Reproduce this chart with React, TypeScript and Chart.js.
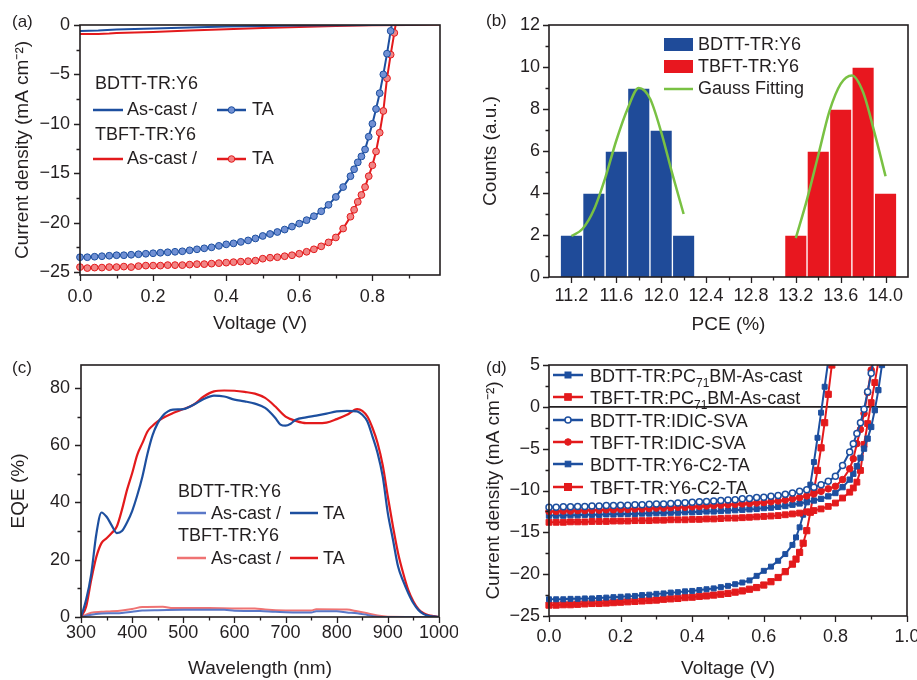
import React, { useEffect, useRef } from 'react';
import { Chart, registerables } from 'chart.js';

Chart.register(...registerables);

const FONT = "'Liberation Sans', Arial, Helvetica, sans-serif";
const INK = '#231f20';
const BLUE = '#1d4f9f';
const RED = '#e31a1c';
const BLUE_BAR = '#1f4b99';
const RED_BAR = '#e8171f';
const GREEN = '#79c143';
const LBLUE = '#5a78c8';
const PINK = '#ef7373';

// ---------- (a) J-V, Y6 blends ----------
const A_BDTT_TA: number[][] = [[0, -23.5], [0.02, -23.5], [0.04, -23.45], [0.06, -23.4], [0.08, -23.35], [0.1, -23.3], [0.12, -23.3], [0.14, -23.25], [0.16, -23.2], [0.18, -23.15], [0.2, -23.1], [0.22, -23.05], [0.24, -23.0], [0.26, -22.95], [0.28, -22.9], [0.3, -22.8], [0.32, -22.7], [0.34, -22.6], [0.36, -22.5], [0.38, -22.35], [0.4, -22.2], [0.42, -22.1], [0.44, -21.95], [0.46, -21.8], [0.48, -21.6], [0.5, -21.35], [0.52, -21.15], [0.54, -20.95], [0.56, -20.7], [0.58, -20.4], [0.6, -20.1], [0.62, -19.75], [0.64, -19.35], [0.66, -18.85], [0.68, -18.2], [0.7, -17.4], [0.72, -16.4], [0.74, -15.3], [0.75, -14.6], [0.76, -13.9], [0.77, -13.3], [0.78, -12.6], [0.79, -11.3], [0.8, -10.0], [0.81, -8.5], [0.82, -6.9], [0.83, -5.0], [0.84, -2.9], [0.85, -0.6], [0.86, 1.5]];
const A_TBFT_TA: number[][] = [[0, -24.5], [0.02, -24.6], [0.04, -24.55], [0.06, -24.55], [0.08, -24.5], [0.1, -24.5], [0.12, -24.45], [0.14, -24.5], [0.16, -24.4], [0.18, -24.35], [0.2, -24.35], [0.22, -24.35], [0.24, -24.3], [0.26, -24.3], [0.28, -24.3], [0.3, -24.25], [0.32, -24.2], [0.34, -24.2], [0.36, -24.15], [0.38, -24.1], [0.4, -24.05], [0.42, -24.0], [0.44, -23.95], [0.46, -23.9], [0.48, -23.85], [0.5, -23.65], [0.52, -23.55], [0.54, -23.5], [0.56, -23.4], [0.58, -23.3], [0.6, -23.15], [0.62, -22.95], [0.64, -22.7], [0.66, -22.4], [0.68, -22.0], [0.7, -21.5], [0.72, -20.6], [0.74, -19.4], [0.75, -18.7], [0.76, -17.9], [0.77, -17.2], [0.78, -16.4], [0.79, -15.3], [0.8, -14.2], [0.81, -12.8], [0.82, -10.9], [0.83, -8.7], [0.84, -5.4], [0.85, -3.0], [0.86, -0.8], [0.87, 1.5]];
const A_BDTT_CAST: number[][] = [[0, -0.6], [0.05, -0.55], [0.1, -0.45], [0.2, -0.35], [0.3, -0.25], [0.4, -0.15], [0.5, -0.1], [0.6, -0.06], [0.7, -0.03], [0.8, 0], [0.9, 0.05], [0.985, 0.1]];
const A_TBFT_CAST: number[][] = [[0, -0.9], [0.05, -0.9], [0.08, -0.85], [0.1, -0.8], [0.2, -0.7], [0.3, -0.55], [0.4, -0.42], [0.5, -0.3], [0.6, -0.2], [0.7, -0.1], [0.8, -0.03], [0.9, 0], [0.985, 0.05]];
const A_X_TICKS = [0, 0.2, 0.4, 0.6, 0.8];
const A_X_MINOR = [0.1, 0.3, 0.5, 0.7, 0.9];
const A_Y_TICKS = [0, -5, -10, -15, -20, -25];
const A_Y_MINOR = [-2.5, -7.5, -12.5, -17.5, -22.5];

// ---------- (b) PCE histogram ----------
const B_BINS_BDTT = [11.2, 11.4, 11.6, 11.8, 12.0, 12.2];
const B_COUNTS_BDTT = [2, 4, 6, 9, 7, 2];
const B_BINS_TBFT = [13.2, 13.4, 13.6, 13.8, 14.0];
const B_COUNTS_TBFT = [2, 6, 8, 10, 4];
const B_GAUSS_BDTT: number[][] = [[11.2, 1.95], [11.3, 2.3], [11.4, 3.2], [11.5, 4.7], [11.6, 6.5], [11.7, 8.0], [11.8, 9.0], [11.9, 8.5], [12.0, 6.9], [12.1, 4.9], [12.2, 3.0]];
const B_GAUSS_TBFT: number[][] = [[13.2, 1.85], [13.3, 3.7], [13.4, 5.8], [13.5, 7.9], [13.6, 9.2], [13.7, 9.6], [13.8, 8.8], [13.9, 6.9], [14.0, 4.8]];
const B_X_TICKS = [11.2, 11.6, 12.0, 12.4, 12.8, 13.2, 13.6, 14.0];
const B_X_MINOR = [11.4, 11.8, 12.2, 12.6, 13.0, 13.4, 13.8];
const B_Y_TICKS = [0, 2, 4, 6, 8, 10, 12];
const B_Y_MINOR = [1, 3, 5, 7, 9, 11];

// ---------- (c) EQE ----------
const C_BDTT_TA: number[][] = [[300, 0], [310, 6], [320, 15], [330, 29], [340, 36.5], [350, 35], [360, 32], [370, 29.3], [380, 30], [390, 33], [400, 37], [410, 42.5], [420, 49], [430, 57], [440, 63.5], [450, 67.7], [460, 70.3], [470, 71.8], [480, 72.4], [500, 72.6], [520, 74.1], [540, 76.1], [560, 77.3], [580, 77], [600, 75.9], [620, 75.3], [640, 74.5], [660, 73], [680, 69.5], [690, 67.2], [700, 66.8], [710, 67.5], [720, 68.9], [740, 69.7], [760, 70.3], [780, 71], [800, 71.8], [820, 72], [840, 71.8], [850, 70.6], [860, 68.3], [870, 63], [880, 57.2], [890, 49], [900, 36.2], [910, 27], [920, 17.6], [930, 12.5], [940, 8.3], [950, 4.8], [960, 2.4], [970, 1], [980, 0.4], [1000, 0]];
const C_TBFT_TA: number[][] = [[300, 0], [310, 3.6], [320, 13], [330, 21], [340, 25.8], [350, 27.5], [360, 29.3], [370, 31.6], [380, 37.4], [390, 44.4], [400, 50.2], [410, 56.6], [420, 60.7], [430, 64.8], [440, 66.8], [450, 68.3], [460, 69.5], [480, 71.2], [500, 72.6], [520, 74.1], [540, 77], [560, 78.8], [580, 79.1], [600, 79], [620, 78.6], [640, 78], [660, 76.5], [680, 73.5], [700, 70], [720, 68.5], [740, 67.7], [760, 67.7], [780, 67.9], [800, 69.1], [820, 70.6], [840, 72.6], [850, 72], [860, 70], [870, 66], [880, 60.7], [890, 53], [900, 42], [910, 31.6], [920, 22.3], [930, 15.3], [940, 9.4], [950, 5.4], [960, 2.7], [970, 1.3], [980, 0.6], [990, 0.3], [1000, 0]];
const C_BDTT_CAST: number[][] = [[300, 0], [320, 0.8], [340, 1.2], [360, 1.3], [380, 1.4], [400, 1.8], [420, 2.3], [450, 2.4], [500, 2.5], [550, 2.5], [580, 2.5], [600, 2.2], [650, 2.1], [680, 1.8], [700, 1.7], [750, 1.6], [760, 2.0], [800, 2.0], [820, 1.6], [840, 1.3], [860, 0.7], [880, 0.1], [900, 0], [1000, 0]];
const C_TBFT_CAST: number[][] = [[300, 0], [320, 1.5], [340, 1.8], [360, 2.0], [380, 2.3], [400, 2.8], [420, 3.5], [460, 3.6], [480, 3.1], [550, 3.1], [600, 3.0], [640, 3.0], [660, 2.6], [700, 2.3], [750, 2.3], [760, 2.7], [820, 2.6], [840, 2.0], [860, 1.3], [880, 0.5], [900, 0.1], [1000, 0]];
const C_X_TICKS = [300, 400, 500, 600, 700, 800, 900, 1000];
const C_X_MINOR = [350, 450, 550, 650, 750, 850, 950];
const C_Y_TICKS = [0, 20, 40, 60, 80];
const C_Y_MINOR = [10, 30, 50, 70];

// ---------- (d) J-V, other acceptors ----------
const D_BDTT_PC: number[][] = [[0, -13.0], [0.02, -13.0], [0.04, -13.0], [0.06, -12.95], [0.08, -12.95], [0.1, -12.9], [0.12, -12.9], [0.14, -12.9], [0.16, -12.85], [0.18, -12.85], [0.2, -12.8], [0.22, -12.8], [0.24, -12.8], [0.26, -12.75], [0.28, -12.75], [0.3, -12.7], [0.32, -12.7], [0.34, -12.65], [0.36, -12.65], [0.38, -12.6], [0.4, -12.6], [0.42, -12.55], [0.44, -12.5], [0.46, -12.5], [0.48, -12.45], [0.5, -12.4], [0.52, -12.35], [0.54, -12.3], [0.56, -12.25], [0.58, -12.2], [0.6, -12.1], [0.62, -12.05], [0.64, -11.95], [0.66, -11.85], [0.68, -11.7], [0.7, -11.55], [0.72, -11.4], [0.74, -11.2], [0.76, -11.0], [0.78, -10.7], [0.8, -10.3], [0.82, -9.6], [0.84, -8.7], [0.85, -8.0], [0.86, -7.1], [0.87, -6.1], [0.88, -5.0], [0.89, -3.8], [0.9, -2.4], [0.91, -0.4], [0.92, 2.0], [0.93, 5.0]];
const D_TBFT_PC: number[][] = [[0, -13.8], [0.02, -13.8], [0.04, -13.8], [0.06, -13.75], [0.08, -13.75], [0.1, -13.75], [0.12, -13.7], [0.14, -13.7], [0.16, -13.7], [0.18, -13.65], [0.2, -13.65], [0.22, -13.65], [0.24, -13.6], [0.26, -13.6], [0.28, -13.6], [0.3, -13.55], [0.32, -13.55], [0.34, -13.5], [0.36, -13.5], [0.38, -13.5], [0.4, -13.45], [0.42, -13.45], [0.44, -13.4], [0.46, -13.4], [0.48, -13.35], [0.5, -13.3], [0.52, -13.3], [0.54, -13.25], [0.56, -13.2], [0.58, -13.15], [0.6, -13.1], [0.62, -13.05], [0.64, -13.0], [0.66, -12.9], [0.68, -12.8], [0.7, -12.7], [0.72, -12.55], [0.74, -12.4], [0.76, -12.2], [0.78, -11.9], [0.8, -11.5], [0.82, -10.9], [0.84, -10.2], [0.85, -9.7], [0.86, -9.0], [0.87, -7.6], [0.88, -4.5], [0.89, -2.0], [0.9, 0.5], [0.91, 2.9], [0.92, 5.4]];
const D_BDTT_IDIC: number[][] = [[0, -12.0], [0.02, -12.0], [0.04, -11.95], [0.06, -11.95], [0.08, -11.9], [0.1, -11.9], [0.12, -11.85], [0.14, -11.85], [0.16, -11.8], [0.18, -11.8], [0.2, -11.75], [0.22, -11.75], [0.24, -11.7], [0.26, -11.7], [0.28, -11.65], [0.3, -11.6], [0.32, -11.6], [0.34, -11.55], [0.36, -11.5], [0.38, -11.45], [0.4, -11.4], [0.42, -11.35], [0.44, -11.3], [0.46, -11.25], [0.48, -11.2], [0.5, -11.15], [0.52, -11.1], [0.54, -11.0], [0.56, -10.95], [0.58, -10.85], [0.6, -10.8], [0.62, -10.7], [0.64, -10.6], [0.66, -10.45], [0.68, -10.3], [0.7, -10.1], [0.72, -9.9], [0.74, -9.6], [0.76, -9.3], [0.78, -8.9], [0.8, -8.3], [0.82, -7.0], [0.84, -5.4], [0.85, -4.4], [0.86, -3.2], [0.87, -1.9], [0.88, -0.3], [0.89, 1.8], [0.9, 4.0], [0.91, 6.4]];
const D_TBFT_IDIC: number[][] = [[0, -12.5], [0.02, -12.5], [0.04, -12.45], [0.06, -12.45], [0.08, -12.4], [0.1, -12.4], [0.12, -12.35], [0.14, -12.35], [0.16, -12.3], [0.18, -12.3], [0.2, -12.25], [0.22, -12.25], [0.24, -12.2], [0.26, -12.2], [0.28, -12.15], [0.3, -12.1], [0.32, -12.1], [0.34, -12.05], [0.36, -12.0], [0.38, -12.0], [0.4, -11.95], [0.42, -11.9], [0.44, -11.85], [0.46, -11.8], [0.48, -11.75], [0.5, -11.7], [0.52, -11.65], [0.54, -11.6], [0.56, -11.55], [0.58, -11.5], [0.6, -11.45], [0.62, -11.35], [0.64, -11.25], [0.66, -11.15], [0.68, -11.0], [0.7, -10.85], [0.72, -10.65], [0.74, -10.4], [0.76, -10.1], [0.78, -9.8], [0.8, -9.5], [0.82, -8.7], [0.84, -7.4], [0.85, -6.2], [0.86, -4.4], [0.87, -2.7], [0.88, -0.8], [0.89, 1.7], [0.9, 4.4], [0.91, 7.0]];
const D_BDTT_Y6: number[][] = [[0, -23.0], [0.02, -23.0], [0.04, -23.0], [0.06, -22.95], [0.08, -22.95], [0.1, -22.9], [0.12, -22.9], [0.14, -22.85], [0.16, -22.8], [0.18, -22.75], [0.2, -22.7], [0.22, -22.65], [0.24, -22.6], [0.26, -22.5], [0.28, -22.45], [0.3, -22.35], [0.32, -22.3], [0.34, -22.2], [0.36, -22.15], [0.38, -22.05], [0.4, -22.0], [0.42, -21.9], [0.44, -21.8], [0.46, -21.7], [0.48, -21.55], [0.5, -21.4], [0.52, -21.2], [0.54, -21.0], [0.56, -20.75], [0.58, -20.2], [0.6, -19.6], [0.62, -19.1], [0.64, -18.4], [0.66, -17.6], [0.68, -16.5], [0.69, -15.6], [0.7, -14.4], [0.71, -12.9], [0.72, -11.2], [0.73, -9.3], [0.74, -6.6], [0.75, -3.7], [0.76, -0.7], [0.77, 2.4], [0.78, 5.5]];
const D_TBFT_Y6: number[][] = [[0, -23.7], [0.02, -23.7], [0.04, -23.65], [0.06, -23.65], [0.08, -23.6], [0.1, -23.55], [0.12, -23.5], [0.14, -23.5], [0.16, -23.45], [0.18, -23.4], [0.2, -23.35], [0.22, -23.3], [0.24, -23.25], [0.26, -23.2], [0.28, -23.15], [0.3, -23.1], [0.32, -23.0], [0.34, -22.95], [0.36, -22.9], [0.38, -22.8], [0.4, -22.75], [0.42, -22.65], [0.44, -22.6], [0.46, -22.5], [0.48, -22.4], [0.5, -22.3], [0.52, -22.15], [0.54, -22.0], [0.56, -21.8], [0.58, -21.6], [0.6, -21.3], [0.62, -20.9], [0.64, -20.4], [0.66, -19.7], [0.68, -18.8], [0.69, -18.2], [0.7, -17.4], [0.71, -16.3], [0.72, -14.8], [0.73, -12.6], [0.74, -10.0], [0.75, -7.6], [0.76, -4.9], [0.77, -1.9], [0.78, 1.5], [0.79, 5.0]];
const D_X_TICKS = [0, 0.2, 0.4, 0.6, 0.8, 1.0];
const D_X_MINOR = [0.1, 0.3, 0.5, 0.7, 0.9];
const D_Y_TICKS = [5, 0, -5, -10, -15, -20, -25];
const D_Y_MINOR = [2.5, -2.5, -7.5, -12.5, -17.5, -22.5];

// ---------- helpers ----------
const xy = (pts: number[][]) => pts.map(([x, y]) => ({ x, y }));
const xyBins = (bins: number[], counts: number[]) => bins.map((x, i) => ({ x, y: counts[i] }));
const fmt1 = (v: number) => v.toFixed(1);
const fmtInt = (v: number) => (v < 0 ? '\u2212' + Math.abs(v) : String(v));

function linScale(min: number, max: number, ticks: number[], fmt: (v: number) => string, title: string, titlePad: any, size: number, horiz: boolean, pad: number) {
  return {
    type: 'linear',
    min,
    max,
    offset: false,
    afterBuildTicks: (s: any) => { s.ticks = ticks.map((value) => ({ value })); },
    afterFit: (s: any) => {
      if (horiz) { s.height = size; s.paddingLeft = 0; s.paddingRight = 0; }
      else { s.width = size; s.paddingTop = 0; s.paddingBottom = 0; }
    },
    grid: { display: false, drawTicks: false },
    border: { display: false },
    ticks: { color: INK, font: { family: FONT, size: 18 }, padding: pad, autoSkip: false, maxRotation: 0, minRotation: 0, callback: (v: any) => fmt(Number(v)) },
    title: { display: true, text: title, color: INK, font: { family: FONT, size: 19 }, padding: titlePad },
  };
}

function drawMarker(ctx: CanvasRenderingContext2D, m: any, x: number, y: number) {
  ctx.save();
  ctx.fillStyle = m.f;
  ctx.strokeStyle = m.b;
  ctx.lineWidth = m.bw || 1;
  if (m.s === 'rect') {
    ctx.fillRect(x - m.r, y - m.r, 2 * m.r, 2 * m.r);
    ctx.strokeRect(x - m.r, y - m.r, 2 * m.r, 2 * m.r);
  } else {
    ctx.beginPath();
    ctx.arc(x, y, m.r, 0, Math.PI * 2);
    ctx.fill();
    ctx.stroke();
  }
  ctx.restore();
}

const decor = {
  id: 'decor',
  beforeDatasetsDraw(chart: any, _a: any, o: any) {
    if (!o || !o.zeroLine) return;
    const { ctx, chartArea: ca, scales } = chart;
    const y = scales.y.getPixelForValue(0);
    ctx.save();
    ctx.strokeStyle = INK;
    ctx.lineWidth = 1.6;
    ctx.beginPath();
    ctx.moveTo(ca.left, y);
    ctx.lineTo(ca.right, y);
    ctx.stroke();
    ctx.restore();
  },
  afterDraw(chart: any, _a: any, o: any) {
    const { ctx, chartArea: ca, scales } = chart;
    ctx.save();
    ctx.strokeStyle = INK;
    const drawT = (sc: any, vals: number[], len: number) => {
      ctx.lineWidth = 1.3;
      ctx.beginPath();
      vals.forEach((v) => {
        const p = Math.round(sc.getPixelForValue(v)) + 0.5;
        if (sc.isHorizontal()) { ctx.moveTo(p, ca.bottom); ctx.lineTo(p, ca.bottom + len); }
        else { ctx.moveTo(ca.left, p); ctx.lineTo(ca.left - len, p); }
      });
      ctx.stroke();
    };
    drawT(scales.x, scales.x.ticks.map((t: any) => t.value), 6);
    drawT(scales.y, scales.y.ticks.map((t: any) => t.value), 6);
    drawT(scales.x, o.minorX || [], 3.5);
    drawT(scales.y, o.minorY || [], 3.5);
    ctx.lineWidth = 1.6;
    ctx.strokeRect(ca.left, ca.top, ca.right - ca.left, ca.bottom - ca.top);

    ctx.textAlign = 'left';
    ctx.textBaseline = 'alphabetic';
    for (const it of o.items || []) {
      if (it.k === 'text') {
        ctx.font = `${it.size || 18}px ${FONT}`;
        ctx.fillStyle = INK;
        ctx.fillText(it.t, it.x, it.y);
      } else if (it.k === 'rich') {
        let x = it.x;
        ctx.fillStyle = INK;
        for (const p of it.parts) {
          ctx.font = `${p.sub ? 12 : 18}px ${FONT}`;
          ctx.fillText(p.t, x, it.y + (p.sub ? 5 : 0));
          x += ctx.measureText(p.t).width;
        }
      } else if (it.k === 'line') {
        ctx.strokeStyle = it.c;
        ctx.lineWidth = it.w;
        ctx.beginPath();
        ctx.moveTo(it.x1, it.y);
        ctx.lineTo(it.x2, it.y);
        ctx.stroke();
        if (it.m) drawMarker(ctx, it.m, (it.x1 + it.x2) / 2, it.y);
      } else if (it.k === 'box') {
        ctx.fillStyle = it.c;
        ctx.fillRect(it.x, it.y, it.w, it.h);
      }
    }
    ctx.restore();
  },
};

const baseOptions = (padRight: number) => ({
  responsive: false,
  animation: false,
  devicePixelRatio: 1,
  events: [],
  layout: { padding: { top: 25, right: padRight, left: 0, bottom: 0 } },
});

const CLIP = { left: 6, top: 0, right: 0, bottom: 6 };

// ---------- chart configs ----------
const MK_A_BLUE = { s: 'circle', r: 3.3, f: '#7090d4', b: BLUE, bw: 1 };
const MK_A_RED = { s: 'circle', r: 3.3, f: '#f18585', b: RED, bw: 1 };

function configA(): any {
  const ta = (pts: number[][], c: string, fill: string) => ({
    data: xy(pts), borderColor: c, borderWidth: 2, pointRadius: 3.4, pointStyle: 'circle',
    pointBackgroundColor: fill, pointBorderColor: c, pointBorderWidth: 1, clip: CLIP,
  });
  const cast = (pts: number[][], c: string) => ({ data: xy(pts), borderColor: c, borderWidth: 2, pointRadius: 0, clip: CLIP });
  return {
    type: 'line',
    data: { datasets: [cast(A_BDTT_CAST, BLUE), cast(A_TBFT_CAST, RED), ta(A_BDTT_TA, BLUE, '#7090d4'), ta(A_TBFT_TA, RED, '#f18585')] },
    options: {
      ...baseOptions(18),
      scales: {
        x: linScale(0, 0.985, A_X_TICKS, fmt1, 'Voltage (V)', { bottom: 5 }, 65, true, 11),
        y: linScale(-25.3, 0, A_Y_TICKS, fmtInt, 'Current density (mA cm\u207B\u00B2)', { top: 11 }, 80, false, 10),
      },
      plugins: {
        legend: { display: false }, tooltip: { enabled: false },
        decor: {
          minorX: A_X_MINOR, minorY: A_Y_MINOR,
          items: [
            { k: 'text', x: 12, y: 27, t: '(a)', size: 17 },
            { k: 'text', x: 95, y: 89, t: 'BDTT-TR:Y6' },
            { k: 'line', x1: 93, x2: 123, y: 110, c: BLUE, w: 2.5 },
            { k: 'text', x: 127, y: 115, t: 'As-cast /' },
            { k: 'line', x1: 217, x2: 246, y: 110, c: BLUE, w: 2.5, m: MK_A_BLUE },
            { k: 'text', x: 252, y: 115, t: 'TA' },
            { k: 'text', x: 95, y: 140, t: 'TBFT-TR:Y6' },
            { k: 'line', x1: 93, x2: 123, y: 159, c: RED, w: 2.5 },
            { k: 'text', x: 127, y: 164, t: 'As-cast /' },
            { k: 'line', x1: 217, x2: 246, y: 159, c: RED, w: 2.5, m: MK_A_RED },
            { k: 'text', x: 252, y: 164, t: 'TA' },
          ],
        },
      },
    },
    plugins: [decor],
  };
}

function configB(): any {
  const bars = (bins: number[], counts: number[], c: string) => ({
    type: 'bar', data: xyBins(bins, counts), backgroundColor: c, borderColor: 'rgba(255,255,255,0.75)',
    borderWidth: 1, barPercentage: 1, categoryPercentage: 1, grouped: false, order: 1,
  });
  const gauss = (pts: number[][]) => ({
    type: 'line', data: xy(pts), borderColor: GREEN, borderWidth: 2.5, pointRadius: 0,
    cubicInterpolationMode: 'monotone', order: 0,
  });
  return {
    type: 'bar',
    data: { datasets: [gauss(B_GAUSS_BDTT), gauss(B_GAUSS_TBFT), bars(B_BINS_BDTT, B_COUNTS_BDTT, BLUE_BAR), bars(B_BINS_TBFT, B_COUNTS_TBFT, RED_BAR)] },
    options: {
      ...baseOptions(9),
      scales: {
        x: linScale(11.0, 14.2, B_X_TICKS, fmt1, 'PCE (%)', { bottom: 4 }, 63, true, 8),
        y: linScale(0, 12, B_Y_TICKS, fmtInt, 'Counts (a.u.)', { top: 21 }, 91, false, 9),
      },
      plugins: {
        legend: { display: false }, tooltip: { enabled: false },
        decor: {
          minorX: B_X_MINOR, minorY: B_Y_MINOR,
          items: [
            { k: 'text', x: 28, y: 26, t: '(b)', size: 17 },
            { k: 'box', x: 206, y: 38, w: 29, h: 13, c: BLUE_BAR },
            { k: 'text', x: 240, y: 50, t: 'BDTT-TR:Y6' },
            { k: 'box', x: 206, y: 60, w: 29, h: 13, c: RED_BAR },
            { k: 'text', x: 240, y: 72, t: 'TBFT-TR:Y6' },
            { k: 'line', x1: 206, x2: 235, y: 89, c: GREEN, w: 2.5 },
            { k: 'text', x: 240, y: 94, t: 'Gauss Fitting' },
          ],
        },
      },
    },
    plugins: [decor],
  };
}

function configC(): any {
  const ln = (pts: number[][], c: string, w: number) => ({
    data: xy(pts), borderColor: c, borderWidth: w, pointRadius: 0, cubicInterpolationMode: 'monotone',
  });
  return {
    type: 'line',
    data: { datasets: [ln(C_BDTT_TA, BLUE, 2.2), ln(C_TBFT_TA, RED, 2.2), ln(C_BDTT_CAST, LBLUE, 2), ln(C_TBFT_CAST, PINK, 2)] },
    options: {
      ...baseOptions(19),
      scales: {
        x: linScale(300, 1000, C_X_TICKS, (v) => String(v), 'Wavelength (nm)', { bottom: 0 }, 63, true, 5),
        y: linScale(0, 88, C_Y_TICKS, fmtInt, 'EQE (%)', { top: 7 }, 81, false, 11),
      },
      plugins: {
        legend: { display: false }, tooltip: { enabled: false },
        decor: {
          minorX: C_X_MINOR, minorY: C_Y_MINOR,
          items: [
            { k: 'text', x: 12, y: 33, t: '(c)', size: 17 },
            { k: 'text', x: 178, y: 157, t: 'BDTT-TR:Y6' },
            { k: 'line', x1: 177, x2: 206, y: 173, c: LBLUE, w: 2.5 },
            { k: 'text', x: 211, y: 179, t: 'As-cast /' },
            { k: 'line', x1: 290, x2: 318, y: 173, c: BLUE, w: 2.5 },
            { k: 'text', x: 323, y: 179, t: 'TA' },
            { k: 'text', x: 178, y: 201, t: 'TBFT-TR:Y6' },
            { k: 'line', x1: 177, x2: 206, y: 218, c: PINK, w: 2.5 },
            { k: 'text', x: 211, y: 224, t: 'As-cast /' },
            { k: 'line', x1: 290, x2: 318, y: 218, c: RED, w: 2.5 },
            { k: 'text', x: 323, y: 224, t: 'TA' },
          ],
        },
      },
    },
    plugins: [decor],
  };
}

const MK_D_BPC = { s: 'rect', r: 3, f: BLUE, b: BLUE, bw: 1 };
const MK_D_RPC = { s: 'rect', r: 3.3, f: RED, b: RED, bw: 1 };
const MK_D_BID = { s: 'circle', r: 3, f: '#ffffff', b: BLUE, bw: 1.5 };
const MK_D_RID = { s: 'circle', r: 3.3, f: RED, b: RED, bw: 1 };
const MK_D_BY6 = { s: 'rect', r: 2.8, f: BLUE, b: BLUE, bw: 1 };
const MK_D_RY6 = { s: 'rect', r: 3.5, f: RED, b: RED, bw: 1 };

function configD(): any {
  const ds = (pts: number[][], c: string, m: any) => ({
    data: xy(pts), borderColor: c, borderWidth: 2, pointStyle: m.s === 'rect' ? 'rect' : 'circle',
    pointRadius: m.s === 'rect' ? m.r * 1.25 : m.r, pointBackgroundColor: m.f, pointBorderColor: m.b,
    pointBorderWidth: m.bw, clip: CLIP,
  });
  return {
    type: 'line',
    data: {
      datasets: [
        ds(D_BDTT_IDIC, BLUE, MK_D_BID), ds(D_TBFT_IDIC, RED, MK_D_RID),
        ds(D_BDTT_PC, BLUE, MK_D_BPC), ds(D_TBFT_PC, RED, MK_D_RPC),
        ds(D_BDTT_Y6, BLUE, MK_D_BY6), ds(D_TBFT_Y6, RED, MK_D_RY6),
      ],
    },
    options: {
      ...baseOptions(10),
      scales: {
        x: linScale(0, 1.0, D_X_TICKS, fmt1, 'Voltage (V)', { bottom: 0 }, 64, true, 10),
        y: linScale(-25, 5, D_Y_TICKS, fmtInt, 'Current density (mA cm\u207B\u00B2)', { top: 24 }, 91, false, 9),
      },
      plugins: {
        legend: { display: false }, tooltip: { enabled: false },
        decor: {
          zeroLine: true,
          minorX: D_X_MINOR, minorY: D_Y_MINOR,
          items: [
            { k: 'text', x: 28, y: 33, t: '(d)', size: 17 },
            { k: 'line', x1: 95, x2: 125, y: 35, c: BLUE, w: 2.5, m: MK_D_BPC },
            { k: 'rich', x: 132, y: 42, parts: [{ t: 'BDTT-TR:PC' }, { t: '71', sub: true }, { t: 'BM-As-cast' }] },
            { k: 'line', x1: 95, x2: 125, y: 57, c: RED, w: 2.5, m: MK_D_RPC },
            { k: 'rich', x: 132, y: 64, parts: [{ t: 'TBFT-TR:PC' }, { t: '71', sub: true }, { t: 'BM-As-cast' }] },
            { k: 'line', x1: 95, x2: 125, y: 80, c: BLUE, w: 2.5, m: MK_D_BID },
            { k: 'text', x: 132, y: 87, t: 'BDTT-TR:IDIC-SVA' },
            { k: 'line', x1: 95, x2: 125, y: 102, c: RED, w: 2.5, m: MK_D_RID },
            { k: 'text', x: 132, y: 109, t: 'TBFT-TR:IDIC-SVA' },
            { k: 'line', x1: 95, x2: 125, y: 124, c: BLUE, w: 2.5, m: MK_D_BY6 },
            { k: 'text', x: 132, y: 131, t: 'BDTT-TR:Y6-C2-TA' },
            { k: 'line', x1: 95, x2: 125, y: 147, c: RED, w: 2.5, m: MK_D_RY6 },
            { k: 'text', x: 132, y: 154, t: 'TBFT-TR:Y6-C2-TA' },
          ],
        },
      },
    },
    plugins: [decor],
  };
}

function Panel({ left, top, width, height, make }: { left: number; top: number; width: number; height: number; make: () => any }) {
  const ref = useRef<HTMLCanvasElement>(null);
  useEffect(() => {
    const chart = new Chart(ref.current as HTMLCanvasElement, make());
    return () => chart.destroy();
  }, []);
  return <canvas ref={ref} width={width} height={height} style={{ position: 'absolute', left, top, width, height }} />;
}

export default function App() {
  return (
    <div style={{ position: 'absolute', left: 0, top: 0, width: 917, height: 680, background: '#ffffff', overflow: 'hidden' }}>
      <Panel left={0} top={0} width={458} height={340} make={configA} />
      <Panel left={458} top={0} width={459} height={340} make={configB} />
      <Panel left={0} top={340} width={458} height={340} make={configC} />
      <Panel left={458} top={340} width={459} height={340} make={configD} />
    </div>
  );
}
